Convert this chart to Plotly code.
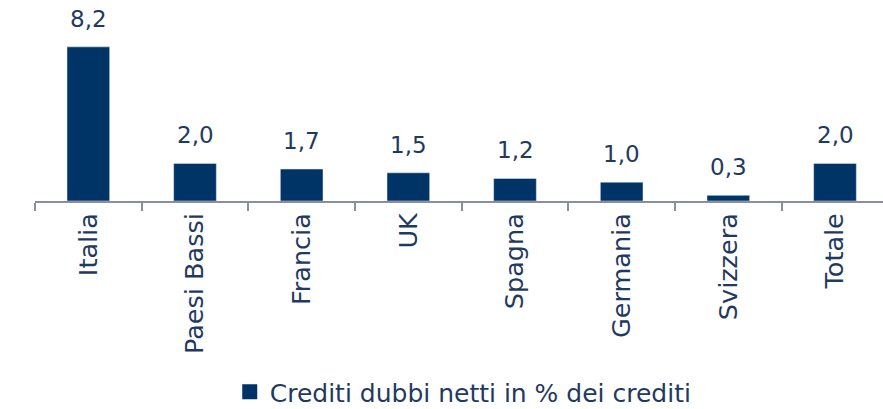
import plotly.graph_objects as go

categories = ["Italia", "Paesi Bassi", "Francia", "UK", "Spagna", "Germania", "Svizzera", "Totale"]
values = [8.2, 2.0, 1.7, 1.5, 1.2, 1.0, 0.3, 2.0]
labels = [f"{v:.1f}".replace(".", ",") for v in values]
series_name = "Crediti dubbi netti in % dei crediti"

navy = "#003366"
text_col = "#1F3A60"
font_family = "'DejaVu Sans', sans-serif"

fig = go.Figure(go.Bar(
    x=categories, y=values, name=series_name,
    marker_color=navy, width=0.4,
    showlegend=False,
))
# legend entry with a larger square marker
fig.add_trace(go.Scatter(x=[None], y=[None], mode="markers", name=series_name,
                         marker=dict(symbol="square", size=15, color=navy),
                         showlegend=True))

for c, v, lab in zip(categories, values, labels):
    fig.add_annotation(x=c, y=v, text=lab, showarrow=False, yanchor="bottom",
                       yshift=13, font=dict(size=23, color=text_col, family=font_family))

fig.update_layout(
    width=883, height=409,
    margin=dict(l=35, r=0, t=10, b=208, autoexpand=False),
    paper_bgcolor="white", plot_bgcolor="white",
    font=dict(family=font_family, color=text_col),
    legend=dict(orientation="h", x=0.505, xanchor="center", y=-1.0, yanchor="middle",
                font=dict(size=25, color=text_col, family=font_family),
                itemwidth=30),
    xaxis=dict(
        range=[-0.5, 7.45], showline=True, linecolor="#8A8F9C", linewidth=2,
        ticks="outside", tickson="boundaries", ticklen=8, tickcolor="#8A8F9C", tickwidth=2,
        tickangle=-90, tickfont=dict(size=25.5, color=text_col, family=font_family),
        showgrid=False, automargin=False,
    ),
    yaxis=dict(range=[0, 10.16], visible=False, showgrid=False, zeroline=False),
)

fig.write_html("out.html", config={"displayModeBar": False},
               post_script="document.body.style.margin='0px';")
